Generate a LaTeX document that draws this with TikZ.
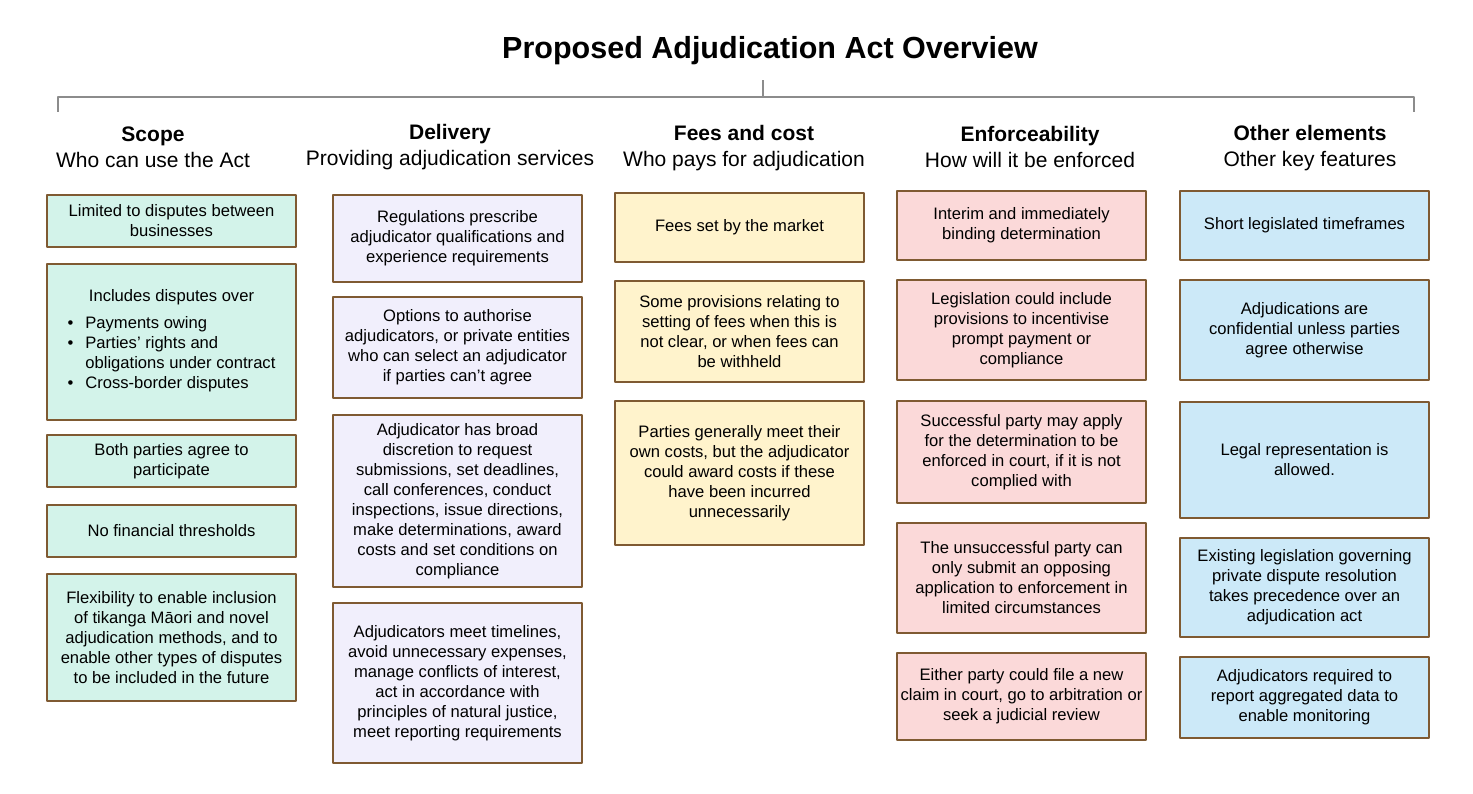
\documentclass[tikz,border=0pt]{standalone}
\usepackage{fontspec}
\setmainfont{Liberation Sans}
\usetikzlibrary{positioning}

\definecolor{edgebrown}{HTML}{7F5A32}
\definecolor{scopefill}{HTML}{D3F3EA}
\definecolor{delivfill}{HTML}{F1EFFC}
\definecolor{feesfill}{HTML}{FFF3CC}
\definecolor{enforcefill}{HTML}{FBD9D9}
\definecolor{otherfill}{HTML}{CCE9F8}
\definecolor{bracketgray}{HTML}{8C8C8C}

\begin{document}
\begin{tikzpicture}[x=1pt,y=-1pt,line cap=round,line join=round,
  card/.style={draw=edgebrown,line width=1.4pt,align=center,inner sep=0pt,minimum width=249pt,font=\fontsize{16.6}{20}\selectfont},
  scopecard/.style={card,fill=scopefill},
  delivcard/.style={card,fill=delivfill},
  feescard/.style={card,fill=feesfill},
  enforcecard/.style={card,fill=enforcefill},
  othercard/.style={card,fill=otherfill},
  colhead/.style={align=center,font=\fontsize{21}{26}\selectfont},
  bracket/.style={draw=bracketgray,line width=2pt,line cap=butt}]
\useasboundingbox (0,0) rectangle (1473,794);
% title and bracket
\node[font=\bfseries\fontsize{30.5}{34}\selectfont] (title) at (770,51) {Proposed Adjudication Act Overview};
\coordinate (brL) at (58,112);
\coordinate (brLtop) at (58,97);
\coordinate (brRtop) at (1414,97);
\coordinate (brR) at (1414,112);
\coordinate (brM) at (763,97);
\coordinate (brMtop) at (763,80);
\draw[bracket] (brL) -- (brLtop) -- (brRtop) -- (brR);
\draw[bracket] (brM) -- (brMtop);
% column headings
\node[colhead] (hscope) at (153,147) {\textbf{Scope}\\Who can use the Act};
\node[colhead] (hdeliv) at (450,147) {\textbf{Delivery}\\Providing adjudication services};
\node[colhead] (hfees) at (744,148) {\textbf{Fees and cost}\\Who pays for adjudication};
\node[colhead] (henforce) at (1030,147) {\textbf{Enforceability}\\How will it be enforced};
\node[colhead] (hother) at (1310,148) {\textbf{Other elements}\\Other key features};
% scope
\node[scopecard,minimum height=52pt] (s1) at (171.5,221) {Limited to disputes between\\businesses};
\node[scopecard,minimum height=156pt] (s2) at (171.5,342) {Includes disputes over\\[9pt]
  \begin{tabular}{@{}l@{\hspace{12pt}}l@{}}
  \textbullet & Payments owing\\
  \textbullet & Parties’ rights and\\
   & obligations under contract\\
  \textbullet & Cross-border disputes
  \end{tabular}};
\node[scopecard,minimum height=52pt] (s3) at (171.5,461) {Both parties agree to\\participate};
\node[scopecard,minimum height=52pt] (s4) at (171.5,531) {No financial thresholds};
\node[scopecard,minimum height=127pt] (s5) at (171.5,637.5) {Flexibility to enable inclusion\\of tikanga Māori and novel\\adjudication methods, and to\\enable other types of disputes\\to be included in the future};
% delivery
\node[delivcard,minimum height=87pt] (d1) at (457.5,238.5) {Regulations prescribe\\adjudicator qualifications and\\experience requirements};
\node[delivcard,minimum height=101pt] (d2) at (457.5,347.5) {Options to authorise\\adjudicators, or private entities\\who can select an adjudicator\\if parties can’t agree};
\node[delivcard,minimum height=172pt] (d3) at (457.5,501) {Adjudicator has broad\\discretion to request\\submissions, set deadlines,\\call conferences, conduct\\inspections, issue directions,\\make determinations, award\\costs and set conditions on\\compliance};
\node[delivcard,minimum height=160pt] (d4) at (457.5,683) {Adjudicators meet timelines,\\avoid unnecessary expenses,\\manage conflicts of interest,\\act in accordance with\\principles of natural justice,\\meet reporting requirements};
% fees
\node[feescard,minimum height=69pt] (f1) at (739.5,227.5) {Fees set by the market};
\node[feescard,minimum height=101pt] (f2) at (739.5,331.5) {Some provisions relating to\\setting of fees when this is\\not clear, or when fees can\\be withheld};
\node[feescard,minimum height=144pt] (f3) at (739.5,473) {Parties generally meet their\\own costs, but the adjudicator\\could award costs if these\\have been incurred\\unnecessarily};
% enforceability
\node[enforcecard,minimum height=69pt] (e1) at (1021.5,225.5) {Interim and immediately\\binding determination};
\node[enforcecard,minimum height=100pt] (e2) at (1021.5,330) {Legislation could include\\provisions to incentivise\\prompt payment or\\compliance};
\node[enforcecard,minimum height=102pt] (e3) at (1021.5,452) {Successful party may apply\\for the determination to be\\enforced in court, if it is not\\complied with};
\node[enforcecard,minimum height=110pt] (e4) at (1021.5,578) {The unsuccessful party can\\only submit an opposing\\application to enforcement in\\limited circumstances};
\node[enforcecard,minimum height=87pt] (e5) at (1021.5,696.5) {Either party could file a new\\claim in court, go to arbitration or\\seek a judicial review};
% other elements
\node[othercard,minimum height=69pt] (o1) at (1304.5,225.5) {Short legislated timeframes};
\node[othercard,minimum height=100pt] (o2) at (1304.5,330) {Adjudications are\\confidential unless parties\\agree otherwise};
\node[othercard,minimum height=116pt] (o3) at (1304.5,460) {Legal representation is\\allowed.};
\node[othercard,minimum height=99pt] (o4) at (1304.5,587.5) {Existing legislation governing\\private dispute resolution\\takes precedence over an\\adjudication act};
\node[othercard,minimum height=81pt] (o5) at (1304.5,697.5) {Adjudicators required to\\report aggregated data to\\enable monitoring};
\end{tikzpicture}
\end{document}
